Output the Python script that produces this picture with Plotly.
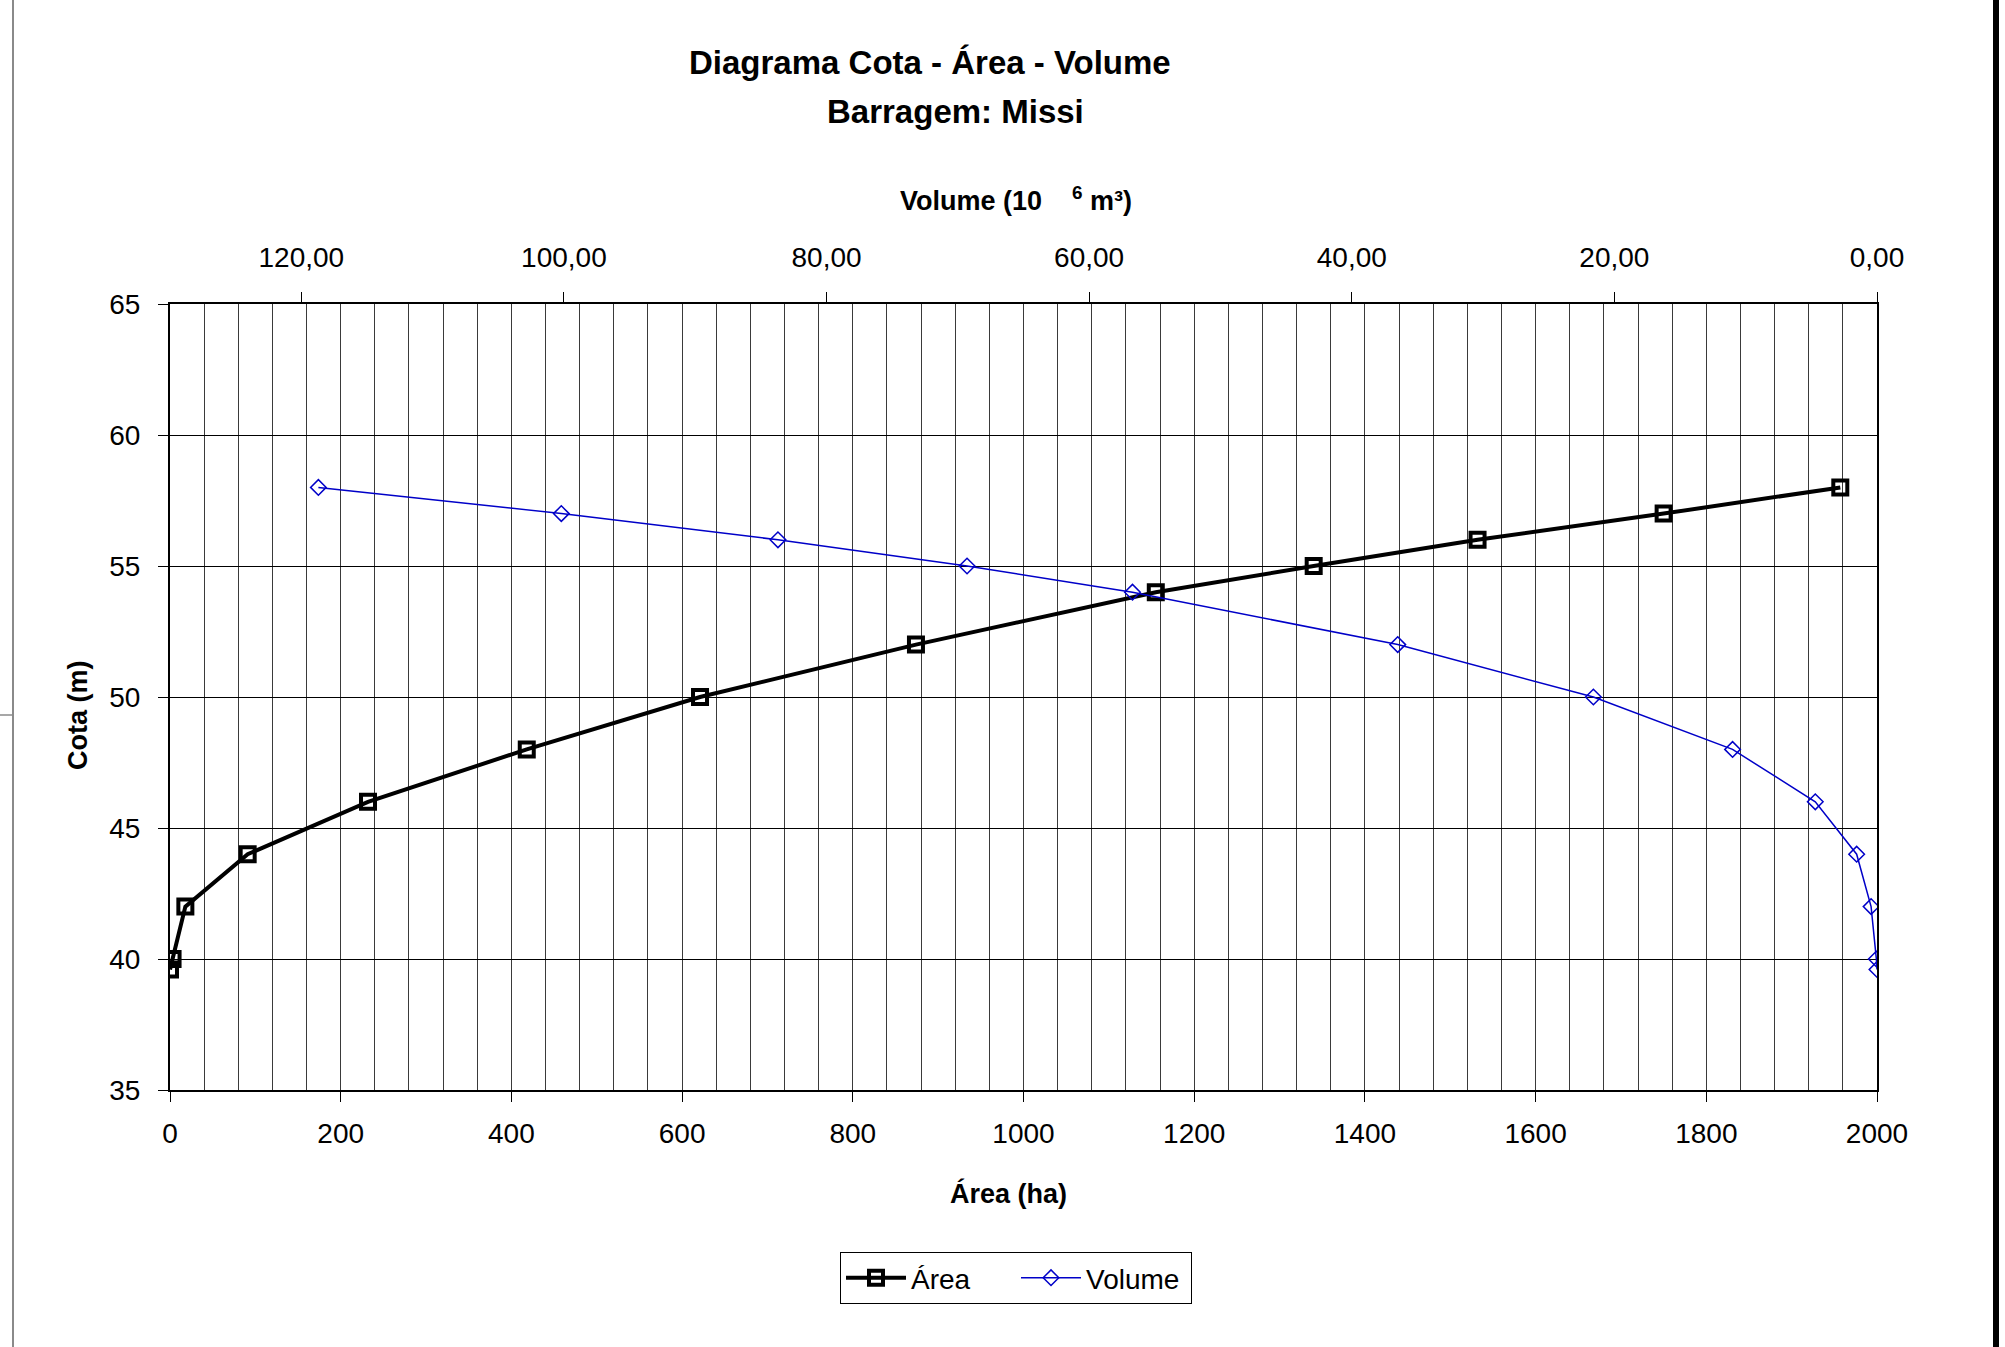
import plotly.graph_objects as go

# ---- data ----
cota = [39.6, 40, 42, 44, 46, 48, 50, 52, 54, 55, 56, 57, 58]
area_ha = [0, 3, 18, 91, 232, 418, 621, 874, 1155, 1340, 1532, 1750, 1957]
volume_hm3 = [0.0, 0.05, 0.45, 1.55, 4.7, 11.0, 21.6, 36.5, 56.7, 69.3, 83.7, 100.2, 118.7]

area_ticks = [0, 200, 400, 600, 800, 1000, 1200, 1400, 1600, 1800, 2000]
volume_ticks = [120, 100, 80, 60, 40, 20, 0]
volume_ticktext = ["120,00", "100,00", "80,00", "60,00", "40,00", "20,00", "0,00"]
cota_ticks = [35, 40, 45, 50, 55, 60, 65]

FONT = "Liberation Sans Narrow, Arial Narrow, Liberation Sans, Arial, sans-serif"
W, H = 2005, 1347
L, R, T, B = 170, 128, 304, 257
PW, PH = W - L - R, H - T - B


def px(x):
    return (x - L) / PW


def py(y):
    return (H - B - y) / PH


fig = go.Figure()
fig.add_trace(go.Scatter(
    x=area_ha, y=cota, name="Área", mode="lines+markers",
    line=dict(color="black", width=4),
    marker=dict(symbol="square-open", size=14, color="black", line=dict(width=4, color="black")),
    xaxis="x", yaxis="y",
))
fig.add_trace(go.Scatter(
    x=volume_hm3, y=cota, name="Volume", mode="lines+markers",
    line=dict(color="#0000C8", width=1.5),
    marker=dict(symbol="diamond-open", size=12, color="#0000C8", line=dict(width=1.5, color="#0000C8")),
    xaxis="x2", yaxis="y",
))

tickfont = dict(family=FONT, size=28, color="black")

fig.update_layout(
    width=W, height=H,
    margin=dict(l=L, r=R, t=T, b=B, pad=0),
    paper_bgcolor="white", plot_bgcolor="white",
    font=dict(family=FONT, color="black"),
    xaxis=dict(
        range=[0, 2000], tickvals=area_ticks, tickfont=tickfont,
        showline=True, linecolor="black", linewidth=1.5,
        ticks="outside", ticklen=10, tickcolor="black", tickwidth=1,
        showgrid=True, gridcolor="#3a3a3a", gridwidth=1,
        minor=dict(dtick=40, tick0=0, showgrid=True, gridcolor="#3a3a3a", gridwidth=1, ticks=""),
        zeroline=False, ticklabelstandoff=8,
    ),
    xaxis2=dict(
        range=[130, 0], overlaying="x", side="top", anchor="y",
        tickvals=volume_ticks, ticktext=volume_ticktext, tickfont=tickfont,
        showline=True, linecolor="black", linewidth=1.5,
        ticks="outside", ticklen=10, tickcolor="black", tickwidth=1,
        showgrid=False, zeroline=False, ticklabelstandoff=14,
    ),
    yaxis=dict(
        range=[35, 65], tickvals=cota_ticks, tickfont=tickfont,
        showline=True, linecolor="black", linewidth=2, mirror=True,
        ticks="outside", ticklen=10, tickcolor="black", tickwidth=1,
        showgrid=True, gridcolor="black", gridwidth=1, zeroline=False,
        ticklabelstandoff=12,
    ),
    legend=dict(
        orientation="h", x=px(840), y=py(1252), xanchor="left", yanchor="top",
        font=dict(family=FONT, size=28, color="black"),
        bordercolor="black", borderwidth=1, bgcolor="white",
        itemwidth=60, entrywidth=100,
    ),
    showlegend=True,
)

annotations = [
    dict(text="<b>Diagrama Cota - Área - Volume</b>", x=px(930), y=py(63), font=dict(size=33)),
    dict(text="<b>Barragem: Missi</b>", x=px(955), y=py(111), font=dict(size=33)),
    dict(text="<b>Volume (10\u00a0\u00a0\u00a0\u00a0<sup>6</sup> m³)</b>", x=px(1016), y=py(199), font=dict(size=27)),
    dict(text="<b>Área (ha)</b>", x=px(1008), y=py(1193), font=dict(size=27)),
    dict(text="<b>Cota (m)</b>", x=px(78), y=py(715), font=dict(size=27), textangle=-90),
]
for a in annotations:
    fig.add_annotation(xref="paper", yref="paper", showarrow=False,
                       xanchor="center", yanchor="middle",
                       font_family=FONT, font_color="black", **{k: v for k, v in a.items()})

# outer frame decorations of the original sheet
fig.add_shape(type="line", xref="paper", yref="paper", x0=px(13), x1=px(13), y0=py(0), y1=py(H),
              line=dict(color="#8a8a8a", width=2))
fig.add_shape(type="line", xref="paper", yref="paper", x0=px(0), x1=px(13), y0=py(715), y1=py(715),
              line=dict(color="#8a8a8a", width=1.5))
fig.add_shape(type="line", xref="paper", yref="paper", x0=px(1996), x1=px(1996), y0=py(0), y1=py(H),
              line=dict(color="black", width=6))

fig.write_html("out.html", config={"displayModeBar": False},
               post_script="document.body.style.margin='0';document.body.style.overflow='hidden';")
